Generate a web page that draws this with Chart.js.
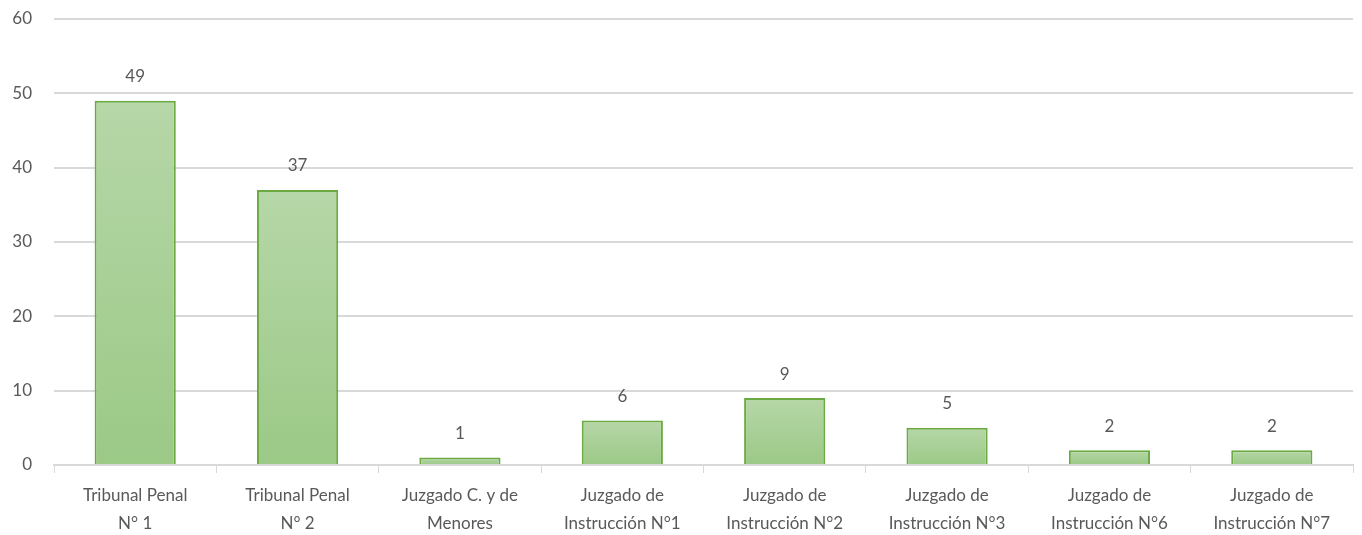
<!DOCTYPE html>
<html><head><meta charset="utf-8">
<script src="https://cdn.jsdelivr.net/npm/chart.js@4"></script>
<style>html,body{margin:0;padding:0;background:#fff;}#wrap{width:1362px;height:535px;}</style>
</head><body><div id="wrap"><canvas id="c"></canvas></div>
<script>
const categories = [
  ["Tribunal Penal", "N° 1"],
  ["Tribunal Penal", "N° 2"],
  ["Juzgado C. y de", "Menores"],
  ["Juzgado de", "Instrucción N°1"],
  ["Juzgado de", "Instrucción N°2"],
  ["Juzgado de", "Instrucción N°3"],
  ["Juzgado de", "Instrucción N°6"],
  ["Juzgado de", "Instrucción N°7"]
];
const values = [49, 37, 1, 6, 9, 5, 2, 2];
const yTicks = [0, 10, 20, 30, 40, 50, 60];

const FONT = "Lato, 'Open Sans', sans-serif";
const TXT = '#595959';

const dataLabels = {
  id: 'dataLabels',
  afterDatasetsDraw(chart) {
    const ctx = chart.ctx;
    const meta = chart.getDatasetMeta(0);
    ctx.save();
    ctx.fillStyle = TXT;
    ctx.font = '17px ' + FONT;
    ctx.textAlign = 'center';
    ctx.textBaseline = 'middle';
    meta.data.forEach((bar, i) => {
      ctx.fillText(String(values[i]), bar.x, bar.y - 24);
    });
    ctx.restore();
  }
};

new Chart(document.getElementById('c'), {
  type: 'bar',
  data: {
    labels: categories,
    datasets: [{
      data: values,
      backgroundColor(context) {
        const chart = context.chart;
        const area = chart.chartArea;
        if (!area || context.type !== 'data') return '#a9d18e';
        const y = chart.scales.y;
        const top = y.getPixelForValue(context.parsed.y);
        const bottom = y.getPixelForValue(0);
        if (!isFinite(top) || !isFinite(bottom) || top === bottom) return '#a9d18e';
        const g = chart.ctx.createLinearGradient(0, top, 0, bottom);
        g.addColorStop(0, '#b6d7a8');
        g.addColorStop(1, '#9bc986');
        return g;
      },
      borderColor: '#6aaa40',
      borderWidth: 2,
      borderSkipped: 'bottom',
      barPercentage: 0.5,
      categoryPercentage: 1.0
    }]
  },
  options: {
    responsive: true,
    maintainAspectRatio: false,
    animation: false,
    devicePixelRatio: 1,
    layout: { padding: { top: 19, right: 9, left: 0, bottom: 0 } },
    plugins: { legend: { display: false }, tooltip: { enabled: false } },
    scales: {
      x: {
        afterFit(scale) { scale.height = 70; },
        grid: { offset: true, drawOnChartArea: false, drawTicks: true, tickLength: 8, color: '#d9d9d9', lineWidth: 1 },
        border: { color: '#d9d9d9', width: 2 },
        ticks: { color: TXT, font: { family: FONT, size: 17, lineHeight: 1.65 }, maxRotation: 0, autoSkip: false, padding: 8 }
      },
      y: {
        min: 0, max: 60,
        afterBuildTicks(scale) { scale.ticks = yTicks.map(v => ({ value: v })); },
        afterFit(scale) { scale.width = 54; scale.paddingTop = 0; scale.paddingBottom = 0; },
        grid: { color: '#d9d9d9', lineWidth: 2, drawTicks: false },
        border: { display: false },
        ticks: { color: TXT, font: { family: FONT, size: 17 }, padding: 22 }
      }
    }
  },
  plugins: [dataLabels]
});
</script></body></html>
